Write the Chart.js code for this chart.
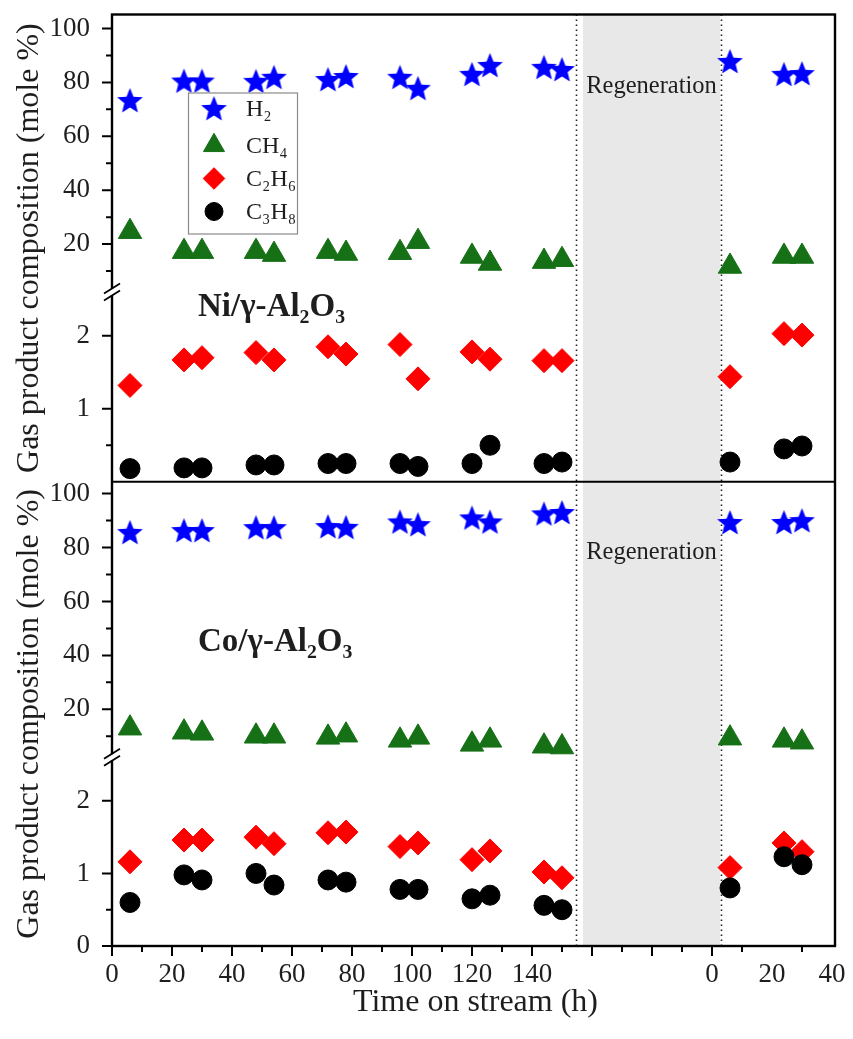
<!DOCTYPE html>
<html>
<head>
<meta charset="utf-8">
<script src="https://cdn.jsdelivr.net/npm/chart.js@4.4.1/dist/chart.umd.min.js"></script>
<style>
  html, body { margin: 0; padding: 0; background: #fff; }
</style>
</head>
<body>
<canvas id="gasChart" width="853" height="1039"></canvas>
<script>
// time on stream (h); second run is shifted by 200 h so it sits right of the regeneration gap
const hours = [6, 24, 30, 48, 54, 72, 78, 96, 102, 120, 126, 144, 150, 206, 224, 230];

const seriesNames = ['H\u2082', 'CH\u2084', 'C\u2082H\u2086', 'C\u2083H\u2088'];

// Ni/γ-Al2O3
const niH2   = [73.3, 80.5, 80.5, 80.4, 81.9, 81.1, 82.2, 81.9, 77.8, 83.0, 86.3, 85.6, 84.8, 87.8, 83.0, 83.3];
const niCH4  = [24.6, 17.2, 17.2, 17.2, 16.1, 17.2, 16.5, 16.8, 20.9, 15.4, 12.8, 13.5, 14.2, 11.7, 15.4, 15.4];
const niC2H6 = [1.32, 1.67, 1.70, 1.77, 1.67, 1.85, 1.75, 1.88, 1.41, 1.78, 1.68, 1.66, 1.66, 1.44, 2.03, 2.01];
const niC3H8 = [0.18, 0.19, 0.19, 0.23, 0.23, 0.25, 0.25, 0.25, 0.21, 0.25, 0.50, 0.25, 0.27, 0.27, 0.45, 0.49];

// Co/γ-Al2O3
const coH2   = [85.6, 86.3, 86.3, 87.4, 87.4, 87.8, 87.5, 89.5, 88.5, 91.0, 89.5, 92.5, 93.0, 89.3, 89.3, 90.0];
const coCH4  = [13.0, 11.5, 11.1, 10.0, 10.0, 9.6, 10.4, 8.5, 9.6, 7.0, 8.5, 6.3, 6.0, 9.3, 8.5, 7.8];
const coC2H6 = [1.16, 1.46, 1.46, 1.50, 1.41, 1.56, 1.57, 1.37, 1.42, 1.19, 1.31, 1.02, 0.94, 1.08, 1.42, 1.30];
const coC3H8 = [0.60, 0.98, 0.91, 1.00, 0.84, 0.91, 0.88, 0.78, 0.78, 0.65, 0.70, 0.56, 0.50, 0.80, 1.23, 1.12];

// x axis ticks (continuous scale, labels restart after regeneration)
const xTickValues = [0, 20, 40, 60, 80, 100, 120, 140, 200, 220, 240];
const xTickLabels = ['0', '20', '40', '60', '80', '100', '120', '140', '0', '20', '40'];
const xMajorTicks = [0, 20, 40, 60, 80, 100, 120, 140, 160, 180, 200];
const xMinorTicks = [10, 30, 50, 70, 90, 110, 130, 150, 170, 190, 210, 230];

// y axis ticks per segment
const upperTicks = [20, 40, 60, 80, 100];
const upperMinor = [10, 30, 50, 70, 90];
const niLowerTicks = [1, 2];
const coLowerTicks = [0, 1, 2];
const lowerMinor = [0.5];

const regenShade = [157, 202.7];
const regenLines = [154.7, 203];

const serif = "'Liberation Serif', 'Times New Roman', serif";
const textColor = '#1e1e1e';

function starImage(color, r) {
    const c = document.createElement('canvas');
    const s = Math.ceil(r * 2 + 2);
    c.width = s;
    c.height = s;
    const g = c.getContext('2d');
    g.fillStyle = color;
    g.beginPath();
    for (let i = 0; i < 10; i++) {
        const rad = i % 2 ? r * 0.44 : r;
        const a = -Math.PI / 2 + i * Math.PI / 5;
        g.lineTo(s / 2 + rad * Math.cos(a), s / 2 + rad * Math.sin(a) + 1);
    }
    g.closePath();
    g.fill();
    return c;
}

const star = starImage('#0000ff', 13.5);
const markers = [
    { pointStyle: star, pointRadius: 13, backgroundColor: '#0000ff', borderColor: '#0000ff', order: 3 },
    { pointStyle: 'triangle', pointRadius: 13.5, backgroundColor: '#167016', borderColor: '#167016', order: 2 },
    { pointStyle: 'rectRot', pointRadius: 12, backgroundColor: '#ff0000', borderColor: '#ff0000', order: 1 },
    { pointStyle: 'circle', pointRadius: 10, backgroundColor: '#000000', borderColor: '#000000', order: 0 }
];

function series(idx, vals, yAxisID) {
    return Object.assign({
        label: seriesNames[idx],
        data: hours.map((h, i) => ({ x: h, y: vals[i] })),
        yAxisID: yAxisID,
        showLine: false,
        borderWidth: 1,
        pointHoverRadius: markers[idx].pointRadius
    }, markers[idx]);
}

function yAxis(min, max, labels, weight, stackWeight) {
    return {
        type: 'linear',
        position: 'left',
        stack: 'panels',
        stackWeight: stackWeight,
        weight: weight,
        min: min,
        max: max,
        bounds: 'data',
        afterFit: s => { s.width = 112; s.paddingTop = 0; s.paddingBottom = 0; },
        afterBuildTicks: s => { s.ticks = labels.map(v => ({ value: v })); },
        ticks: {
            autoSkip: false,
            padding: 14,
            color: textColor,
            font: { family: serif, size: 27 },
            callback: v => String(v)
        },
        grid: { display: false },
        border: { display: false }
    };
}

// ticks, frame, axis breaks, legend and the text labels
const decor = {
    id: 'decor',
    beforeDatasetsDraw(chart) {
        const { ctx, chartArea: a, scales } = chart;
        const x = scales.x;
        ctx.save();
        ctx.fillStyle = '#e8e8e8';
        const g0 = x.getPixelForValue(regenShade[0]);
        const g1 = x.getPixelForValue(regenShade[1]);
        ctx.fillRect(g0, a.top, g1 - g0, a.bottom - a.top);
        ctx.strokeStyle = '#222';
        ctx.lineWidth = 1.6;
        ctx.setLineDash([1.6, 3.4]);
        regenLines.forEach(v => {
            const px = Math.round(x.getPixelForValue(v)) + 0.5;
            ctx.beginPath();
            ctx.moveTo(px, a.top);
            ctx.lineTo(px, a.bottom);
            ctx.stroke();
        });
        ctx.restore();
    },
    afterDraw(chart) {
        const { ctx, chartArea: a, scales } = chart;
        const x = scales.x;
        ctx.save();
        ctx.strokeStyle = '#000';
        ctx.lineWidth = 2;

        // x ticks
        ctx.beginPath();
        xMajorTicks.forEach(v => { const px = x.getPixelForValue(v); ctx.moveTo(px, a.bottom); ctx.lineTo(px, a.bottom + 10); });
        xMinorTicks.forEach(v => { const px = x.getPixelForValue(v); ctx.moveTo(px, a.bottom); ctx.lineTo(px, a.bottom + 6); });
        // y ticks
        const yTicks = [
            [scales.yNiUp, upperTicks, upperMinor],
            [scales.yNiLow, niLowerTicks, lowerMinor],
            [scales.yCoUp, upperTicks, upperMinor],
            [scales.yCoLow, coLowerTicks, lowerMinor]
        ];
        yTicks.forEach(([s, major, minor]) => {
            major.forEach(v => { const py = s.getPixelForValue(v); ctx.moveTo(a.left, py); ctx.lineTo(a.left - 10, py); });
            minor.forEach(v => { const py = s.getPixelForValue(v); ctx.moveTo(a.left, py); ctx.lineTo(a.left - 6, py); });
        });
        ctx.stroke();

        // frame and panel divider
        ctx.lineWidth = 2.4;
        ctx.strokeRect(a.left, a.top, a.right - a.left, a.bottom - a.top);
        ctx.lineWidth = 2;
        ctx.beginPath();
        ctx.moveTo(a.left, scales.yNiLow.bottom);
        ctx.lineTo(a.right, scales.yNiLow.bottom);
        ctx.stroke();

        // axis breaks
        [scales.yNiUp.bottom, scales.yCoUp.bottom].forEach(by => {
            ctx.fillStyle = '#fff';
            ctx.fillRect(a.left - 3, by - 3, 6, 6);
            ctx.lineWidth = 1.8;
            ctx.beginPath();
            [-3.5, 3.5].forEach(k => {
                ctx.moveTo(a.left - 8, by + k + 5);
                ctx.lineTo(a.left + 8, by + k - 5);
            });
            ctx.stroke();
        });

        ctx.fillStyle = textColor;
        ctx.textBaseline = 'alphabetic';

        // y titles
        ctx.font = '32px ' + serif;
        ctx.textAlign = 'center';
        [[a.top, scales.yNiLow.bottom], [scales.yCoUp.top, a.bottom]].forEach(([t, b]) => {
            ctx.save();
            ctx.translate(38, (t + b) / 2);
            ctx.rotate(-Math.PI / 2);
            ctx.fillText('Gas product composition (mole %)', 0, 0);
            ctx.restore();
        });

        // x title
        ctx.font = '32px ' + serif;
        ctx.fillText('Time on stream (h)', (a.left + a.right) / 2 + 2, a.bottom + 65);

        // regeneration labels
        ctx.font = '24.5px ' + serif;
        const rx = x.getPixelForValue((regenShade[0] + regenShade[1]) / 2);
        ctx.textBaseline = 'middle';
        ctx.fillText('Regeneration', rx, scales.yNiUp.getPixelForValue(78.5));
        ctx.fillText('Regeneration', rx, scales.yCoUp.getPixelForValue(78.2));

        // catalyst labels
        ctx.textBaseline = 'alphabetic';
        ctx.textAlign = 'left';
        ctx.font = 'bold 33px ' + serif;
        ctx.fillText('Ni/\u03b3-Al\u2082O\u2083', a.left + 86, scales.yNiLow.getPixelForValue(2.27));
        ctx.fillText('Co/\u03b3-Al\u2082O\u2083', a.left + 86, scales.yCoUp.getPixelForValue(41.5));

        // legend
        const lx = a.left + 76, ly = a.top + 78, lw = 109, lh = 141;
        ctx.fillStyle = '#fff';
        ctx.fillRect(lx, ly, lw, lh);
        ctx.strokeStyle = '#8a8a8a';
        ctx.lineWidth = 1.2;
        ctx.strokeRect(lx + 0.5, ly + 0.5, lw, lh);
        const rowY = [16, 53, 86, 119];
        chart.data.datasets.slice(0, 4).forEach((ds, i) => {
            const cy = ly + rowY[i];
            ctx.fillStyle = ds.backgroundColor;
            ctx.strokeStyle = ds.borderColor;
            ctx.lineWidth = 1;
            Chart.helpers.drawPoint(ctx, {
                pointStyle: ds.pointStyle,
                radius: ds.pointRadius * 0.9,
                rotation: 0,
                borderWidth: 1
            }, lx + 26, cy);
            ctx.fillStyle = textColor;
            ctx.font = '24px ' + serif;
            ctx.textAlign = 'left';
            ctx.textBaseline = 'middle';
            ctx.fillText(ds.label, lx + 58, cy + 1);
        });
        ctx.restore();
    }
};

const ctx = document.getElementById('gasChart').getContext('2d');
const chart = new Chart(ctx, {
    type: 'scatter',
    data: {
        datasets: [
            series(0, niH2, 'yNiUp'),
            series(1, niCH4, 'yNiUp'),
            series(2, niC2H6, 'yNiLow'),
            series(3, niC3H8, 'yNiLow'),
            series(0, coH2, 'yCoUp'),
            series(1, coCH4, 'yCoUp'),
            series(2, coC2H6, 'yCoLow'),
            series(3, coC3H8, 'yCoLow')
        ]
    },
    options: {
        responsive: false,
        animation: false,
        layout: { padding: { top: 13, right: 18, left: 0, bottom: 0 } },
        plugins: {
            legend: { display: false },
            tooltip: { enabled: false }
        },
        scales: {
            x: {
                type: 'linear',
                position: 'bottom',
                min: 0,
                max: 241,
                afterFit: s => { s.height = 93; s.paddingLeft = 0; s.paddingRight = 0; },
                afterBuildTicks: s => { s.ticks = xTickValues.map(v => ({ value: v })); },
                ticks: {
                    autoSkip: false,
                    maxRotation: 0,
                    padding: 5,
                    color: textColor,
                    font: { family: serif, size: 27 },
                    callback: v => xTickLabels[xTickValues.indexOf(v)]
                },
                grid: { display: false },
                border: { display: false }
            },
            yNiUp: yAxis(2.2, 105.2, upperTicks, 4, 278),
            yNiLow: yAxis(0, 2.6, niLowerTicks, 3, 190),
            yCoUp: yAxis(2.2, 104.4, upperTicks, 2, 276),
            yCoLow: yAxis(0, 2.6, coLowerTicks, 1, 189)
        }
    },
    plugins: [decor]
});
</script>
</body>
</html>
